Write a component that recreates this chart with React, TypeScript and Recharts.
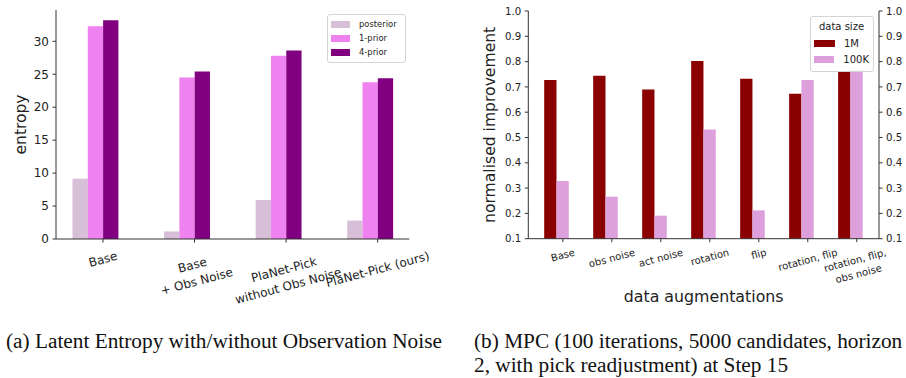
import React from 'react';
import { ComposedChart, Bar, Line, XAxis, YAxis, Legend } from 'recharts';

// ---------- Data: chart (a) ----------
const entropyCategories = ['Base', 'Base\n+ Obs Noise', 'PlaNet-Pick\nwithout Obs Noise', 'PlaNet-Pick (ours)'];
const posteriorValues = [9.15, 1.15, 5.9, 2.8];
const prior1Values = [32.3, 24.5, 27.8, 23.8];
const prior4Values = [33.2, 25.4, 28.6, 24.4];
const entropyTicks = [0, 5, 10, 15, 20, 25, 30];
const entropySeriesNames = ['posterior', '1-prior', '4-prior'];

// ---------- Data: chart (b) ----------
const augCategories = ['Base', 'obs noise', 'act noise', 'rotation', 'flip', 'rotation, flip', 'rotation, flip,\nobs noise'];
const improvement1M = [0.727, 0.744, 0.69, 0.802, 0.732, 0.673, 0.762];
const improvement100K = [0.328, 0.266, 0.191, 0.532, 0.212, 0.727, 0.766];
const improvementTicks = [0.1, 0.2, 0.3, 0.4, 0.5, 0.6, 0.7, 0.8, 0.9, 1.0];
const augSeriesNames = ['1M', '100K'];

const entropyData = entropyCategories.map((c, i) => ({
  name: c,
  posterior: posteriorValues[i],
  prior1: prior1Values[i],
  prior4: prior4Values[i],
}));

const augData = augCategories.map((c, i) => ({
  name: c,
  m1: improvement1M[i],
  k100: improvement100K[i],
}));

const FONT = '"DejaVu Sans", sans-serif';
const TEXT = '#222';
const SPINE = '#333';

let measureCtx: CanvasRenderingContext2D | null = null;
function textWidth(s: string, fs: number): number {
  if (!measureCtx && typeof document !== 'undefined') {
    measureCtx = document.createElement('canvas').getContext('2d');
  }
  if (!measureCtx) return s.length * fs * 0.56;
  measureCtx.font = `${fs}px "DejaVu Sans"`;
  return measureCtx.measureText(s).width;
}

const RotatedTick = (props: any) => {
  const { x, y, payload, fs, c0, shiftX } = props;
  const lines = String(payload.value).split('\n');
  const lh = fs * 1.4;
  const W = Math.max(...lines.map((l: string) => textWidth(l, fs)));
  const H = fs * 1.17 + (lines.length - 1) * lh;
  const t = (15 * Math.PI) / 180;
  const half = (W * Math.sin(t) + H * Math.cos(t)) / 2;
  const cx = x + shiftX;
  const cy = y + c0 + half;
  return (
    <g>
      <line x1={cx} x2={cx} y1={y} y2={y + 3.5} stroke={SPINE} strokeWidth={1} />
      <g transform={`translate(${cx},${cy}) rotate(-15)`}>
        <text textAnchor="middle" fontSize={fs} fill={TEXT} fontFamily={FONT}>
          {lines.map((l: string, i: number) => (
            <tspan key={i} x={0} y={(i - (lines.length - 1) / 2) * lh + fs * 0.36}>
              {l}
            </tspan>
          ))}
        </text>
      </g>
    </g>
  );
};

const YLabel = (props: any) => {
  const { viewBox, text, cx, fs } = props;
  const cy = viewBox.y + viewBox.height / 2;
  return (
    <text
      x={cx}
      y={cy}
      transform={`rotate(-90, ${cx}, ${cy})`}
      textAnchor="middle"
      dominantBaseline="central"
      fontSize={fs}
      fill={TEXT}
      fontFamily={FONT}
    >
      {text}
    </text>
  );
};

const XLabel = (props: any) => {
  const { viewBox, text, baseline, fs } = props;
  const cx = viewBox.x + viewBox.width / 2;
  return (
    <text x={cx} y={baseline} textAnchor="middle" fontSize={fs} fill={TEXT} fontFamily={FONT}>
      {text}
    </text>
  );
};

function ordered(payload: any[] | undefined, names: string[]) {
  const list = payload || [];
  return names
    .map((n) => list.find((e: any) => e.value === n))
    .filter(Boolean) as any[];
}

const EntropyLegend = (props: any) => {
  const items = ordered(props.payload, entropySeriesNames);
  return (
    <div
      style={{
        border: '1px solid #d4d4d4',
        borderRadius: 3,
        background: 'rgba(255,255,255,0.85)',
        padding: '2px 4px 3px 3px',
        fontFamily: FONT,
        fontSize: 8.4,
        color: TEXT,
        boxSizing: 'border-box',
        width: 79,
      }}
    >
      {items.map((e: any, i: number) => (
        <div key={i} style={{ display: 'flex', alignItems: 'center', height: 14 }}>
          <span style={{ display: 'inline-block', width: 19, height: 7, background: e.color, marginRight: 9 }} />
          <span>{e.value}</span>
        </div>
      ))}
    </div>
  );
};

const AugLegend = (props: any) => {
  const items = ordered(props.payload, augSeriesNames);
  return (
    <div
      style={{
        border: '1px solid #d4d4d4',
        borderRadius: 3,
        background: 'rgba(255,255,255,0.85)',
        padding: '2px 4px 4px 3px',
        fontFamily: FONT,
        fontSize: 10,
        color: TEXT,
        boxSizing: 'border-box',
        width: 64,
      }}
    >
      <div style={{ textAlign: 'center', height: 16, lineHeight: '16px' }}>data size</div>
      {items.map((e: any, i: number) => (
        <div key={i} style={{ display: 'flex', alignItems: 'center', height: 16 }}>
          <span style={{ display: 'inline-block', width: 21, height: 7, background: e.color, marginRight: 9 }} />
          <span>{e.value}</span>
        </div>
      ))}
    </div>
  );
};

const tickStyle = (fs: number) => ({ fontSize: fs, fill: TEXT, fontFamily: FONT });

const captionStyle: React.CSSProperties = {
  position: 'absolute',
  top: 329,
  fontFamily: '"Liberation Serif", serif',
  fontSize: 21.3,
  lineHeight: '24px',
  whiteSpace: 'nowrap',
  color: '#111',
};

export default function App() {
  return (
    <div
      style={{
        position: 'absolute',
        left: 0,
        top: 0,
        width: 906,
        height: 378,
        overflow: 'hidden',
        background: '#fff',
      }}
    >
      <div style={{ position: 'absolute', left: 0, top: 0 }}>
        <ComposedChart
          width={450}
          height={310}
          data={entropyData}
          margin={{ top: 10, right: 40.7, bottom: 0, left: 0 }}
          barGap={0}
          barCategoryGap={0}
        >
          <XAxis
            dataKey="name"
            height={71}
            interval={0}
            padding={{ left: -6.5, right: -6.5 }}
            tickSize={0}
            tickMargin={0}
            tickLine={false}
            axisLine={{ stroke: SPINE, strokeWidth: 1 }}
            tick={<RotatedTick fs={12} c0={9.5} shiftX={7.65} />}
          />
          <XAxis
            xAxisId="top"
            dataKey="name"
            orientation="top"
            height={0}
            tick={false}
            tickLine={false}
            axisLine={{ stroke: SPINE, strokeWidth: 1 }}
          />
          <YAxis
            width={56}
            type="number"
            domain={[0, 34.75]}
            ticks={entropyTicks}
            interval={0}
            tickSize={3.5}
            tickMargin={3.5}
            tickLine={{ stroke: SPINE }}
            axisLine={{ stroke: SPINE, strokeWidth: 1 }}
            tick={tickStyle(12)}
            label={<YLabel text="entropy" cx={20.7} fs={15.5} />}
          />
          <YAxis
            yAxisId="right"
            orientation="right"
            width={0}
            type="number"
            domain={[0, 34.75]}
            tick={false}
            tickLine={false}
            axisLine={{ stroke: SPINE, strokeWidth: 1 }}
          />
          <Legend
            layout="vertical"
            align="center"
            verticalAlign="middle"
            content={<EntropyLegend />}
            wrapperStyle={{ left: 327, top: 14, width: 79 }}
          />
          <Bar dataKey="posterior" name="posterior" fill="#D8BFD8" barSize={15.3} isAnimationActive={false} />
          <Bar dataKey="prior1" name="1-prior" fill="#EE82EE" barSize={15.3} isAnimationActive={false} />
          <Bar dataKey="prior4" name="4-prior" fill="#800080" barSize={15.3} isAnimationActive={false} />
          <Line
            yAxisId="right"
            dataKey="prior4"
            stroke="none"
            dot={false}
            activeDot={false}
            legendType="none"
            isAnimationActive={false}
          />
        </ComposedChart>
      </div>

      <div style={{ position: 'absolute', left: 450, top: 0 }}>
        <ComposedChart
          width={460}
          height={310}
          data={augData}
          margin={{ top: 11, right: 0, bottom: 0, left: 0 }}
          barGap={0}
          barCategoryGap={0}
        >
          <XAxis
            dataKey="name"
            height={71.3}
            interval={0}
            padding={{ left: 3.9, right: 3.9 }}
            tickSize={0}
            tickMargin={0}
            tickLine={false}
            axisLine={{ stroke: SPINE, strokeWidth: 1 }}
            tick={<RotatedTick fs={10} c0={7.5} shiftX={6.15} />}
            label={<XLabel text="data augmentations" baseline={301.7} fs={15.8} />}
          />
          <XAxis
            xAxisId="top"
            dataKey="name"
            orientation="top"
            height={0}
            tick={false}
            tickLine={false}
            axisLine={{ stroke: SPINE, strokeWidth: 1 }}
          />
          <YAxis
            width={78.3}
            type="number"
            domain={[0.1, 1.0]}
            ticks={improvementTicks}
            interval={0}
            tickFormatter={(v: number) => v.toFixed(1)}
            tickSize={3.5}
            tickMargin={3.5}
            tickLine={{ stroke: SPINE }}
            axisLine={{ stroke: SPINE, strokeWidth: 1 }}
            tick={tickStyle(10.2)}
            label={<YLabel text="normalised improvement" cx={40} fs={15.6} />}
          />
          <YAxis
            yAxisId="right"
            orientation="right"
            width={31}
            type="number"
            domain={[0.1, 1.0]}
            ticks={improvementTicks}
            interval={0}
            tickFormatter={(v: number) => v.toFixed(1)}
            tickSize={3.5}
            tickMargin={3.5}
            tickLine={{ stroke: SPINE }}
            axisLine={{ stroke: SPINE, strokeWidth: 1 }}
            tick={tickStyle(10.2)}
          />
          <Legend
            layout="vertical"
            align="center"
            verticalAlign="middle"
            content={<AugLegend />}
            wrapperStyle={{ left: 360, top: 16, width: 64 }}
          />
          <Bar dataKey="m1" name="1M" fill="#8B0000" barSize={12.3} isAnimationActive={false} />
          <Bar dataKey="k100" name="100K" fill="#DDA0DD" barSize={12.3} isAnimationActive={false} />
          <Line
            yAxisId="right"
            dataKey="m1"
            stroke="none"
            dot={false}
            activeDot={false}
            legendType="none"
            isAnimationActive={false}
          />
        </ComposedChart>
      </div>

      <div style={{ ...captionStyle, left: 6 }}>(a) Latent Entropy with/without Observation Noise</div>
      <div style={{ ...captionStyle, left: 474 }}>
        <div>(b) MPC (100 iterations, 5000 candidates, horizon</div>
        <div>2, with pick readjustment) at Step 15</div>
      </div>
    </div>
  );
}
